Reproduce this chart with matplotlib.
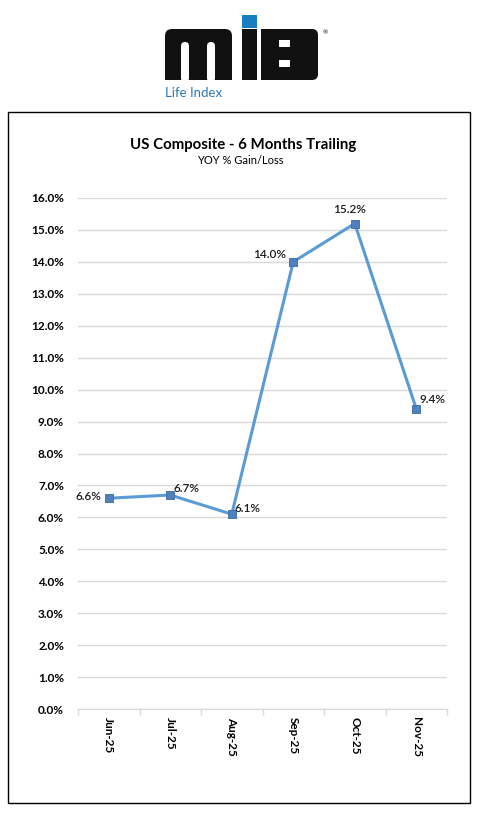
import matplotlib.pyplot as plt
import matplotlib.patches as mpatches
from matplotlib.ticker import FuncFormatter, FixedLocator

months = ["Jun-25", "Jul-25", "Aug-25", "Sep-25", "Oct-25", "Nov-25"]
yoy_pct = [6.6, 6.7, 6.1, 14.0, 15.2, 9.4]
label_offsets = [(-5, 1, "right", "center"), (2, 1, "left", "bottom"), (2, 4, "left", "center"),
                 (-5, 5, "right", "center"), (-4, 6, "center", "bottom"), (2, 7, "left", "center")]

plt.rcParams["font.family"] = ["Lato", "DejaVu Sans"]

fig = plt.figure(figsize=(4.8, 8.19), dpi=100)

# background layer in pixel coords for logo and frame
bg = fig.add_axes([0, 0, 1, 1], zorder=0)
bg.set_xlim(0, 480)
bg.set_ylim(819, 0)
bg.axis("off")

bg.add_patch(mpatches.Rectangle((8, 112), 462, 691, fill=False, edgecolor="black", linewidth=1))

black = "#111111"
# "m"
bg.add_patch(mpatches.FancyBboxPatch((165, 29), 67, 51, boxstyle="round,pad=0,rounding_size=7",
                                     facecolor=black, edgecolor="none"))
bg.add_patch(mpatches.Rectangle((165, 72), 67, 8, facecolor=black, edgecolor="none"))
for gx in (181, 207):
    bg.add_patch(mpatches.FancyBboxPatch((gx, 42), 8, 40, boxstyle="round,pad=0,rounding_size=4",
                                         facecolor="white", edgecolor="none"))
# "I" with blue square
bg.add_patch(mpatches.Rectangle((242, 29), 15, 51, facecolor=black, edgecolor="none"))
bg.add_patch(mpatches.Rectangle((242, 15), 15, 13, facecolor="#1a7dbf", edgecolor="none"))
# "B"
bg.add_patch(mpatches.FancyBboxPatch((261, 29), 57, 51, boxstyle="round,pad=0,rounding_size=6",
                                     facecolor=black, edgecolor="none"))
bg.add_patch(mpatches.Rectangle((261, 29), 10, 51, facecolor=black, edgecolor="none"))
bg.add_patch(mpatches.Rectangle((279, 40), 11, 7, facecolor="white", edgecolor="none"))
bg.add_patch(mpatches.Rectangle((279, 60), 11, 7, facecolor="white", edgecolor="none"))
bg.text(325, 33, "®", fontsize=4.5, ha="center", va="center", color=black)
bg.text(165, 93, "Life Index", fontsize=9.5, ha="left", va="center", color="#2a7ab8")

fig.text(0.507, 1 - 145 / 819, "US Composite - 6 Months Trailing", fontsize=10.8,
         fontweight="bold", ha="center", va="center")
fig.text(0.5, 1 - 160 / 819, "YOY % Gain/Loss", fontsize=8, ha="center", va="center")

ax = fig.add_axes([78 / 480, 1 - 709 / 819, 369 / 480, 511 / 819], zorder=1)
ax.patch.set_alpha(0)
x = list(range(len(months)))
ax.plot(x, yoy_pct, color="#5b9bd5", linewidth=2.2, marker="s", markersize=5.5,
        markerfacecolor="#4f81bd", markeredgecolor="#3a6aa0", markeredgewidth=0.6, zorder=3)

for xi, v, (dx, dy, ha, va) in zip(x, yoy_pct, label_offsets):
    ax.annotate(f"{v:.1f}%", (xi, v), xytext=(dx, dy), textcoords="offset points",
                ha=ha, va=va, fontsize=8.5, fontweight="semibold", color="#1a1a1a", zorder=4)

ax.set_xlim(-0.5, len(months) - 0.5)
ax.set_ylim(0, 16)
ax.yaxis.set_major_locator(FixedLocator([i for i in range(0, 17)]))
ax.yaxis.set_major_formatter(FuncFormatter(lambda v, p: f"{v:.1f}%"))
ax.grid(axis="y", color="#d9d9d9", linewidth=1)
ax.set_axisbelow(True)

ax.set_xticks(x)
ax.set_xticklabels(months, rotation=270, fontweight="bold", fontsize=8.5)
ax.set_xticks([i - 0.5 for i in range(len(months) + 1)], minor=True)
ax.tick_params(axis="x", which="major", length=0, pad=6)
ax.tick_params(axis="x", which="minor", length=4, color="#d9d9d9", width=1)
ax.tick_params(axis="y", length=0, pad=10, labelsize=8.5)
for lbl in ax.get_yticklabels():
    lbl.set_fontweight("bold")

for side in ("top", "right", "left"):
    ax.spines[side].set_visible(False)
ax.spines["bottom"].set_color("#d9d9d9")

fig.savefig("out.png", dpi=100)
